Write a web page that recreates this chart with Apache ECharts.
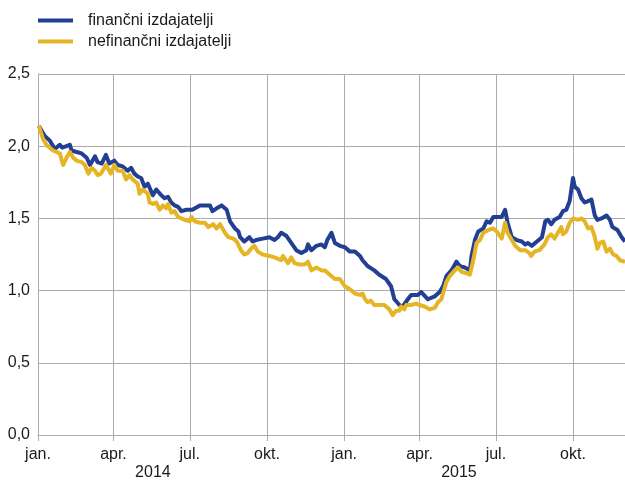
<!DOCTYPE html>
<html>
<head>
<meta charset="utf-8">
<script src="https://cdn.jsdelivr.net/npm/echarts@6/dist/echarts.min.js"></script>
<style>html,body{margin:0;padding:0;background:#fff}#c{width:625px;height:481px}</style>
</head>
<body>
<div id="c"></div>
<script>
var seriesNames = ['finančni izdajatelji', 'nefinančni izdajatelji'];
var quarterLabels = ['jan.', 'apr.', 'jul.', 'okt.'];
var yearLabels = ['2014', '2015'];
var axisStart = '2014-01-01';
var axisEnd = '2015-12-02';

var finDates = ['2014-01-02','2014-01-09','2014-01-15','2014-01-17','2014-01-21','2014-01-27','2014-01-30','2014-02-04','2014-02-08','2014-02-10','2014-02-16','2014-02-22','2014-02-28','2014-03-04','2014-03-10','2014-03-13','2014-03-18','2014-03-23','2014-03-27','2014-04-02','2014-04-06','2014-04-12','2014-04-18','2014-04-22','2014-04-26','2014-04-30','2014-05-04','2014-05-08','2014-05-12','2014-05-15','2014-05-18','2014-05-22','2014-05-28','2014-06-01','2014-06-05','2014-06-09','2014-06-13','2014-06-17','2014-06-21','2014-06-27','2014-07-04','2014-07-13','2014-07-25','2014-07-28','2014-08-02','2014-08-08','2014-08-14','2014-08-18','2014-08-24','2014-08-28','2014-08-30','2014-09-04','2014-09-10','2014-09-14','2014-09-18','2014-09-26','2014-10-04','2014-10-10','2014-10-14','2014-10-18','2014-10-24','2014-10-30','2014-11-05','2014-11-11','2014-11-17','2014-11-19','2014-11-23','2014-11-29','2014-12-05','2014-12-09','2014-12-12','2014-12-17','2014-12-21','2014-12-27','2015-01-02','2015-01-08','2015-01-14','2015-01-20','2015-01-23','2015-01-29','2015-02-06','2015-02-12','2015-02-20','2015-02-26','2015-03-02','2015-03-08','2015-03-12','2015-03-18','2015-03-22','2015-03-30','2015-04-03','2015-04-11','2015-04-19','2015-04-25','2015-04-29','2015-05-03','2015-05-09','2015-05-15','2015-05-19','2015-05-25','2015-05-31','2015-06-02','2015-06-06','2015-06-10','2015-06-16','2015-06-20','2015-06-24','2015-06-28','2015-07-08','2015-07-12','2015-07-15','2015-07-20','2015-07-26','2015-08-01','2015-08-05','2015-08-08','2015-08-13','2015-08-19','2015-08-25','2015-08-29','2015-09-01','2015-09-05','2015-09-09','2015-09-15','2015-09-19','2015-09-23','2015-09-27','2015-10-01','2015-10-03','2015-10-07','2015-10-11','2015-10-15','2015-10-19','2015-10-23','2015-10-27','2015-10-30','2015-11-04','2015-11-10','2015-11-14','2015-11-17','2015-11-23','2015-11-28','2015-12-02'];
var finValues = [2.14,2.07,2.04,2.05,1.98,2.01,1.99,2.00,2.01,1.97,1.96,1.95,1.92,1.87,1.93,1.89,1.88,1.94,1.88,1.90,1.87,1.86,1.83,1.85,1.81,1.79,1.78,1.72,1.74,1.70,1.66,1.70,1.66,1.64,1.65,1.61,1.59,1.58,1.55,1.56,1.56,1.59,1.59,1.55,1.57,1.59,1.56,1.48,1.43,1.41,1.37,1.34,1.37,1.34,1.35,1.36,1.37,1.35,1.37,1.40,1.38,1.33,1.28,1.26,1.28,1.32,1.28,1.31,1.32,1.30,1.35,1.40,1.33,1.31,1.30,1.27,1.27,1.24,1.21,1.17,1.14,1.11,1.08,1.03,0.94,0.90,0.89,0.94,0.97,0.97,0.99,0.94,0.96,0.99,1.03,1.10,1.14,1.20,1.17,1.16,1.14,1.24,1.35,1.41,1.43,1.48,1.47,1.51,1.51,1.56,1.47,1.37,1.35,1.34,1.32,1.33,1.31,1.34,1.37,1.48,1.49,1.46,1.49,1.51,1.55,1.56,1.62,1.78,1.72,1.70,1.64,1.61,1.62,1.63,1.52,1.49,1.50,1.52,1.49,1.44,1.42,1.37,1.34];

var nonfinDates = ['2014-01-02','2014-01-07','2014-01-11','2014-01-19','2014-01-27','2014-01-31','2014-02-04','2014-02-08','2014-02-12','2014-02-16','2014-02-22','2014-02-26','2014-03-02','2014-03-06','2014-03-10','2014-03-13','2014-03-17','2014-03-23','2014-03-29','2014-04-02','2014-04-06','2014-04-12','2014-04-16','2014-04-20','2014-04-24','2014-04-30','2014-05-02','2014-05-06','2014-05-12','2014-05-14','2014-05-18','2014-05-22','2014-05-26','2014-05-30','2014-06-03','2014-06-05','2014-06-09','2014-06-13','2014-06-17','2014-06-25','2014-07-01','2014-07-03','2014-07-07','2014-07-13','2014-07-19','2014-07-23','2014-07-29','2014-08-02','2014-08-06','2014-08-12','2014-08-16','2014-08-22','2014-08-26','2014-08-31','2014-09-04','2014-09-08','2014-09-12','2014-09-16','2014-09-20','2014-09-26','2014-10-04','2014-10-10','2014-10-18','2014-10-20','2014-10-26','2014-10-30','2014-11-03','2014-11-09','2014-11-15','2014-11-19','2014-11-23','2014-11-29','2014-12-05','2014-12-09','2014-12-15','2014-12-21','2014-12-27','2015-01-02','2015-01-08','2015-01-14','2015-01-20','2015-01-23','2015-01-26','2015-01-29','2015-02-02','2015-02-06','2015-02-18','2015-02-24','2015-02-28','2015-03-04','2015-03-08','2015-03-10','2015-03-14','2015-03-16','2015-03-22','2015-03-28','2015-04-01','2015-04-07','2015-04-13','2015-04-19','2015-04-23','2015-04-27','2015-04-29','2015-05-03','2015-05-07','2015-05-13','2015-05-17','2015-05-21','2015-05-27','2015-05-31','2015-06-04','2015-06-08','2015-06-12','2015-06-16','2015-06-22','2015-06-28','2015-07-02','2015-07-08','2015-07-12','2015-07-15','2015-07-20','2015-07-24','2015-07-30','2015-08-05','2015-08-10','2015-08-12','2015-08-16','2015-08-22','2015-08-28','2015-09-01','2015-09-05','2015-09-09','2015-09-13','2015-09-17','2015-09-19','2015-09-23','2015-09-27','2015-10-01','2015-10-07','2015-10-11','2015-10-15','2015-10-19','2015-10-23','2015-10-27','2015-10-30','2015-11-02','2015-11-06','2015-11-10','2015-11-14','2015-11-18','2015-11-22','2015-11-26','2015-12-02'];
var nonfinValues = [2.14,2.05,2.01,1.97,1.95,1.87,1.92,1.96,1.92,1.90,1.89,1.87,1.81,1.85,1.83,1.80,1.81,1.87,1.81,1.87,1.83,1.83,1.77,1.80,1.77,1.74,1.67,1.70,1.67,1.61,1.60,1.61,1.56,1.59,1.57,1.60,1.54,1.55,1.51,1.49,1.48,1.51,1.48,1.47,1.47,1.44,1.46,1.43,1.46,1.40,1.37,1.36,1.34,1.28,1.25,1.26,1.29,1.31,1.27,1.25,1.24,1.23,1.21,1.24,1.19,1.23,1.19,1.18,1.18,1.20,1.14,1.16,1.14,1.14,1.11,1.08,1.08,1.03,1.01,0.98,0.97,0.98,0.94,0.92,0.93,0.90,0.90,0.87,0.83,0.86,0.86,0.89,0.87,0.90,0.90,0.91,0.90,0.89,0.87,0.88,0.92,0.94,0.98,1.06,1.10,1.14,1.16,1.13,1.12,1.11,1.21,1.33,1.35,1.40,1.42,1.43,1.41,1.36,1.47,1.40,1.35,1.31,1.28,1.28,1.26,1.24,1.27,1.28,1.32,1.37,1.39,1.36,1.40,1.44,1.39,1.41,1.47,1.50,1.49,1.50,1.48,1.43,1.44,1.37,1.29,1.33,1.34,1.27,1.29,1.25,1.24,1.21,1.20];

// build daily category axis
var categories = [];
(function () {
  var t = Date.parse(axisStart + 'T00:00:00Z');
  var end = Date.parse(axisEnd + 'T00:00:00Z');
  while (t <= end) {
    categories.push(new Date(t).toISOString().slice(0, 10));
    t += 86400000;
  }
})();

function isQuarterStart(v) {
  var md = v.slice(5);
  return md === '01-01' || md === '04-01' || md === '07-01' || md === '10-01';
}
var yearMidIdx = yearLabels.map(function (y) {
  var a = categories.indexOf(y + '-01-01');
  var b = categories.indexOf(y + '-10-01');
  return Math.round((a + b) / 2);
});

var gridColor = '#ababab';
var textColor = '#1a1a1a';
var fontFamily = '"Liberation Sans", Arial, sans-serif';

var chart = echarts.init(document.getElementById('c'), null, {renderer: 'canvas'});
chart.setOption({
  animation: false,
  backgroundColor: '#ffffff',
  grid: {left: 38, right: 0, top: 74, bottom: 45, containLabel: false},
  legend: {
    orient: 'vertical',
    left: 38,
    top: 12,
    padding: 0,
    itemWidth: 35,
    itemHeight: 4,
    itemGap: 4,
    icon: 'rect',
    textStyle: {fontSize: 16, color: textColor, fontFamily: fontFamily, padding: [0, 0, 0, 10], lineHeight: 17},
    data: seriesNames
  },
  xAxis: [{
    type: 'category',
    data: categories,
    boundaryGap: false,
    axisLine: {show: true, lineStyle: {color: gridColor, width: 1}},
    axisTick: {show: true, length: 6, interval: function (i, v) { return isQuarterStart(v); }, lineStyle: {color: gridColor}},
    splitLine: {show: true, interval: function (i, v) { return isQuarterStart(v); }, lineStyle: {color: gridColor, width: 1}},
    axisLabel: {
      interval: function (i, v) { return isQuarterStart(v); },
      formatter: function (v) { return quarterLabels[(parseInt(v.slice(5, 7), 10) - 1) / 3]; },
      fontSize: 16, color: textColor, fontFamily: fontFamily, margin: 12
    }
  }, {
    type: 'category',
    data: categories,
    boundaryGap: false,
    position: 'bottom',
    axisLine: {show: false},
    axisTick: {show: false},
    splitLine: {show: false},
    axisLabel: {
      interval: function (i) { return yearMidIdx.indexOf(i) >= 0; },
      formatter: function (v) { return v.slice(0, 4); },
      fontSize: 16, color: textColor, fontFamily: fontFamily, margin: 30
    }
  }],
  yAxis: {
    type: 'value',
    min: 0, max: 2.5, interval: 0.5,
    axisLine: {show: true, lineStyle: {color: gridColor}},
    axisTick: {show: false},
    splitLine: {show: true, lineStyle: {color: gridColor, width: 1}},
    axisLabel: {
      formatter: function (v) { return v.toFixed(1).replace('.', ','); },
      fontSize: 16, color: textColor, fontFamily: fontFamily, margin: 8
    }
  },
  series: [{
    name: seriesNames[0],
    type: 'line',
    xAxisIndex: 0,
    showSymbol: false,
    symbol: 'none',
    color: '#233f94',
    lineStyle: {width: 4, color: '#233f94', join: 'round'},
    data: finDates.map(function (d, i) { return [d, finValues[i]]; })
  }, {
    name: seriesNames[1],
    type: 'line',
    xAxisIndex: 0,
    showSymbol: false,
    symbol: 'none',
    color: '#e5b526',
    lineStyle: {width: 4, color: '#e5b526', join: 'round'},
    data: nonfinDates.map(function (d, i) { return [d, nonfinValues[i]]; })
  }]
});
</script>
</body>
</html>
